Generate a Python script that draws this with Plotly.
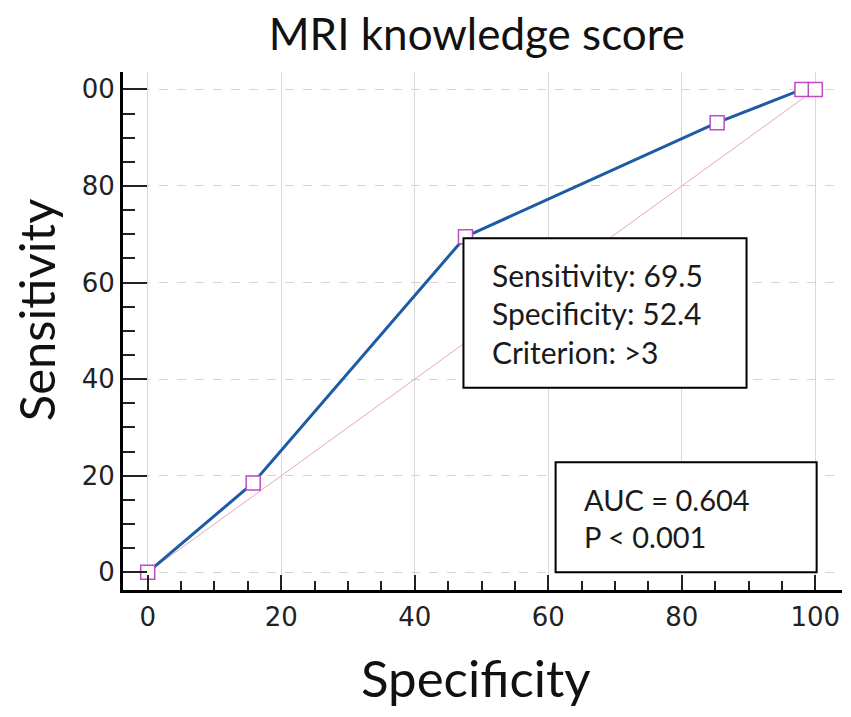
import plotly.graph_objects as go

# ROC points (x = 100 - specificity, y = sensitivity)
fpr = [0, 15.8, 47.6, 85.3, 98.0, 100]
sens = [0, 18.5, 69.5, 93.1, 100, 100]
diag_x = [0, 100]
diag_y = [0, 100]

tick_vals = [0, 20, 40, 60, 80, 100]
x_tick_text = ["0", "20", "40", "60", "80", "100"]
y_tick_text = ["0", "20", "40", "60", "80", "00"]

info_lines = ["Sensitivity: 69.5", "Specificity: 52.4", "Criterion: >3"]
auc_lines = ["AUC = 0.604", "P < 0.001"]

TEXT_FONT = "Lato"
TICK_FONT = "DejaVu Sans"

fig = go.Figure()

fig.add_trace(go.Scatter(
    x=diag_x, y=diag_y, mode="lines",
    line=dict(color="#e6a9ad", width=1),
    hoverinfo="skip", showlegend=False))

fig.add_trace(go.Scatter(
    x=fpr, y=sens, mode="lines+markers",
    line=dict(color="#1d5ba5", width=3),
    marker=dict(symbol="square", size=14, color="white",
                line=dict(color="#c04ac4", width=1.5)),
    showlegend=False))

# boxes
fig.add_shape(type="rect", x0=47.3, x1=89.7, y0=38.2, y1=69.2,
              line=dict(color="black", width=2), fillcolor="white", layer="above")
fig.add_shape(type="rect", x0=61.1, x1=100.2, y0=0, y1=22.8,
              line=dict(color="black", width=2), fillcolor="white", layer="above")

for i, txt in enumerate(info_lines):
    fig.add_annotation(x=51.2, y=61.6 - i * 8.0, text=txt, showarrow=False,
                       xanchor="left", yanchor="middle",
                       font=dict(family=TEXT_FONT, size=30, color="#1a1a1a"))
for i, txt in enumerate(auc_lines):
    fig.add_annotation(x=65.0, y=15.0 - i * 7.6, text=txt, showarrow=False,
                       xanchor="left", yanchor="middle",
                       font=dict(family=TEXT_FONT, size=29, color="#1a1a1a"))

# axis titles placed as paper annotations
fig.add_annotation(text="Sensitivity", xref="paper", yref="paper",
                   x=-0.121, y=0.54, textangle=-90, showarrow=False,
                   xanchor="center", yanchor="middle",
                   font=dict(family=TEXT_FONT, size=49, color="#111"))
fig.add_annotation(text="Specificity", xref="paper", yref="paper",
                   x=0.491, y=-0.168, showarrow=False,
                   xanchor="center", yanchor="middle",
                   font=dict(family=TEXT_FONT, size=51, color="#111"))

fig.update_layout(
    width=851, height=717,
    margin=dict(l=115, r=17, t=64, b=135),
    paper_bgcolor="white", plot_bgcolor="white",
    title=dict(text="MRI knowledge score", x=0.551, xanchor="center",
               y=0.963, yanchor="middle",
               font=dict(family=TEXT_FONT, size=44, color="#111")),
)

fig.update_xaxes(
    range=[-3.7, 104.0], tickvals=tick_vals, ticktext=x_tick_text,
    showline=True, linecolor="black", linewidth=3,
    ticks="inside", ticklen=15, tickwidth=2, tickcolor="#222",
    minor=dict(ticks="inside", ticklen=9, dtick=5, tickwidth=1.5,
               tickcolor="#222", showgrid=False),
    showgrid=True, gridcolor="#d9d9d9", gridwidth=1, zeroline=False,
    tickfont=dict(family=TICK_FONT, size=26, color="#222"),
    ticklabelstandoff=2,
)

fig.update_yaxes(
    range=[-3.66, 103.6], tickvals=tick_vals, ticktext=y_tick_text,
    showline=True, linecolor="black", linewidth=3,
    ticks="inside", ticklen=24, tickwidth=2, tickcolor="#222",
    minor=dict(ticks="inside", ticklen=12, dtick=5, tickwidth=1.5,
               tickcolor="#222", showgrid=False),
    showgrid=True, gridcolor="#d4d4d4", gridwidth=1, griddash="dash",
    zeroline=False,
    tickfont=dict(family=TICK_FONT, size=26, color="#222"),
    ticklabelstandoff=0,
)

fig.write_html("out.html")
